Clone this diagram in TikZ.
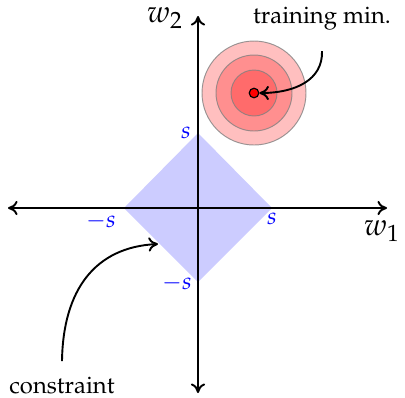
\documentclass[tikz,border=0pt]{standalone}
\usepackage[T1]{fontenc}
\usepackage{mathpazo}
\usetikzlibrary{arrows.meta}
\begin{document}
\begin{tikzpicture}[x=0.42pt,y=-0.42pt,
  axis/.style={line width=0.8pt,<->,>={To[length=4pt,width=6pt]}},
  axlbl/.style={inner sep=0pt,font=\fontsize{13}{15}\selectfont},
  lbl/.style={text=blue,inner sep=0pt},
  ring/.style={fill=red,fill opacity=0.25,draw=gray,draw opacity=0.8,line width=0.4pt},
  callout/.style={line width=0.8pt,->,>={To[length=4pt,width=6pt]}}]
\useasboundingbox (0,0) rectangle (405,397);
% constraint region
\coordinate (top) at (198,133);
\coordinate (rt) at (272,208);
\coordinate (bot) at (198,282);
\coordinate (lf) at (124,208);
\fill[blue!20] (top) -- (rt) -- (bot) -- (lf) -- cycle;
% loss contours
\coordinate (min) at (254,93);
\draw[ring] (min) circle[radius=52];
\draw[ring] (min) circle[radius=38];
\draw[ring] (min) circle[radius=23];
\node[circle,fill=red,draw=black,line width=0.5pt,minimum size=4pt,inner sep=0pt] (dot) at (min) {};
% axes
\coordinate (xl) at (8,208);
\coordinate (xr) at (387,208);
\coordinate (yt) at (198,16);
\coordinate (yb) at (198,393);
\draw[axis] (xl) -- (xr);
\draw[axis] (yb) -- (yt);
\node[axlbl] (w1) at (382,231) {$w_1$};
\node[axlbl] (w2) at (165,18) {$w_2$};
% tick labels
\node[lbl] (s1) at (186,133) {$s$};
\node[lbl] (s2) at (272,219) {$s$};
\node[lbl] (ms1) at (101,221) {$-s$};
\node[lbl] (ms2) at (177,283) {$-s$};
% annotations
\node (tm) at (322,19) {training min.};
\node (cn) at (62,385) {constraint};
\coordinate (cp) at (158,244);
\draw[callout] (tm.south) ++(0,12) .. controls (323,80) and (295,93) .. (dot.east);
\draw[callout] (cn.north) ++(0,-7) .. controls (63,290) and (95,247) .. (cp);
\end{tikzpicture}
\end{document}
